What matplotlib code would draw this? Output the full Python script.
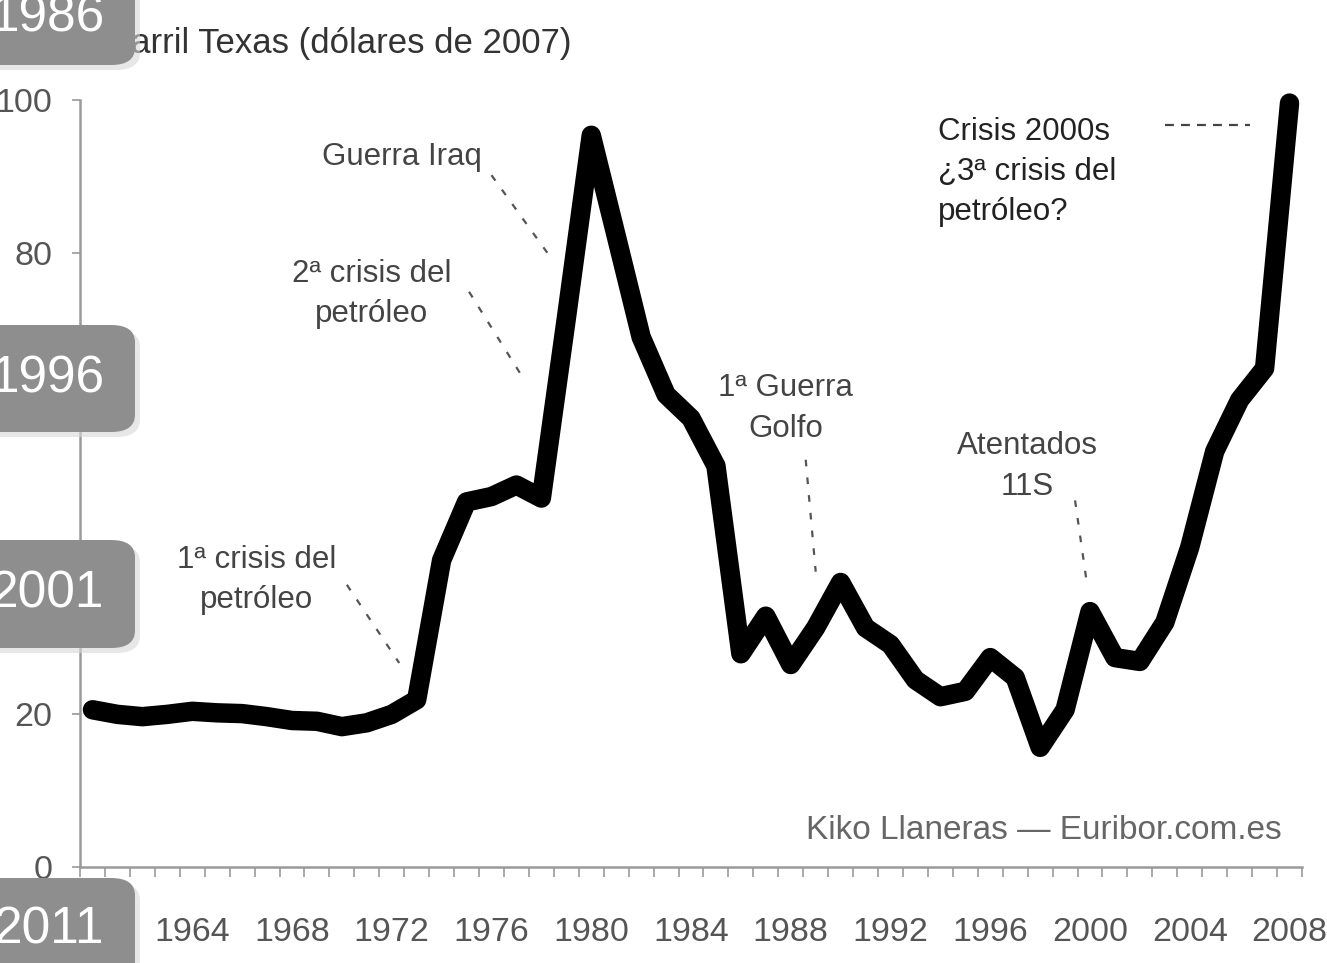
import matplotlib
matplotlib.use("Agg")
import matplotlib.pyplot as plt
from matplotlib.patches import FancyBboxPatch

# precio anual barril Texas, dolares de 2007
years = list(range(1960, 2009))
price = [20.5, 19.9, 19.6, 19.9, 20.3, 20.1, 20.0, 19.6, 19.1, 19.0,
         18.3, 18.8, 19.9, 21.8, 40.0, 47.6, 48.3, 49.8, 48.1, 71.5,
         95.4, 82.3, 69.1, 61.6, 58.5, 52.3, 27.8, 32.7, 26.4, 31.2,
         37.1, 31.2, 29.0, 24.4, 22.2, 22.9, 27.3, 24.7, 15.6, 20.5,
         33.3, 27.3, 26.8, 31.9, 41.7, 54.2, 60.9, 65.0, 99.6]
label_years = [1964, 1968, 1972, 1976, 1980, 1984, 1988, 1992, 1996, 2000, 2004, 2008]
yticks = [0, 20, 40, 60, 80, 100]
ytick_labels = ["0", "20", "", "", "80", "100"]  # 40 y 60 quedan tapados por las cajas
box_labels = ["1986", "1996", "2001", "2011"]

FONT = ['Liberation Sans', 'DejaVu Sans']
plt.rcParams['font.family'] = FONT

fig = plt.figure(figsize=(13.27, 9.63), dpi=100)
ax = fig.add_axes([80/1327, 96/963, 1222/1327, 767/963])

ax.plot(years, price, color='black', lw=14, solid_joinstyle='round',
        solid_capstyle='round', clip_on=False, zorder=3)

ax.set_xlim(1959.5, 2008.5)
ax.set_ylim(0, 100)
for s in ['top', 'right']:
    ax.spines[s].set_visible(False)
for s in ['left', 'bottom']:
    ax.spines[s].set_color('#9a9a9a')
    ax.spines[s].set_linewidth(1.8)

ax.set_xticks(label_years)
ax.set_xticklabels([str(y) for y in label_years], fontsize=24.5, color='#555555')
ax.set_xticks([y - 0.5 for y in years] + [2008.5], minor=True)
ax.tick_params(axis='x', which='major', length=0, pad=36)
ax.tick_params(axis='x', which='minor', length=7, width=1.2, color='#9a9a9a', direction='out')
ax.set_yticks(yticks)
ax.set_yticklabels(ytick_labels, fontsize=24.5, color='#555555')
ax.tick_params(axis='y', length=6, width=1.2, color='#9a9a9a', pad=14)

# anotaciones
txt = dict(fontsize=22.5, color='#444444', ha='center', va='center', linespacing=1.45)
dot = dict(color='#555555', lw=1.6, ls=(0, (3, 5)))

ax.text(1972.4, 92.6, "Guerra Iraq", **txt)
ax.plot([1976.0, 1978.3], [90.2, 79.8], **dot)
ax.text(1971.2, 74.7, "2ª crisis del\npetróleo", **txt)
ax.plot([1975.1, 1977.2], [75.0, 64.1], **dot)
ax.text(1966.6, 37.4, "1ª crisis del\npetróleo", **txt)
ax.plot([1970.2, 1972.3], [36.8, 26.6], **dot)
ax.text(1987.8, 59.8, "1ª Guerra\nGolfo", **txt)
ax.plot([1988.6, 1989.0], [53.1, 38.5], **dot)
ax.text(1997.5, 52.2, "Atentados\n11S", **txt)
ax.plot([1999.4, 1999.9], [47.8, 36.4], **dot)

ax.text(1993.9, 90.6, "Crisis 2000s\n¿3ª crisis del\npetróleo?", fontsize=22.5,
        color='#222222', ha='left', va='center', linespacing=1.45)
ax.plot([2003.0, 2006.4], [96.7, 96.7], color='#444444', lw=1.6, ls=(0, (4, 3.2)))

ax.text(2007.7, 4.8, "Kiko Llaneras — Euribor.com.es", fontsize=24,
        color='#666666', ha='right', va='center')

fig.text(108/1327, 1 - 43/963, "Barril Texas (dólares de 2007)",
         fontsize=25, color='#333333', ha='left', va='center')

# cajas grises de la linea temporal
boxes = [(-40, 65), (325, 432), (540, 648), (878, 1000)]
W, H = 1327, 963
for (top, bot), lab in zip(boxes, box_labels):
    sh = FancyBboxPatch((-40/W, 1 - (bot + 5)/H), 180/W, (bot - top)/H,
                        boxstyle="round,pad=0,rounding_size=0.018",
                        transform=fig.transFigure, facecolor='#d8d8d8', edgecolor='none',
                        zorder=9, alpha=0.6)
    fig.add_artist(sh)
    b = FancyBboxPatch((-40/W, 1 - bot/H), 175/W, (bot - top)/H,
                       boxstyle="round,pad=0,rounding_size=0.018",
                       transform=fig.transFigure, facecolor='#8e8e8e', edgecolor='none',
                       zorder=10)
    fig.add_artist(b)
    cy = (top + bot) / 2 if top > 0 else 18
    if bot > 963:
        cy = 930
    fig.text(104/W, 1 - cy/H, lab, fontsize=37, color='white', ha='right', va='center',
             zorder=11)

fig.savefig("out.png", dpi=100)
